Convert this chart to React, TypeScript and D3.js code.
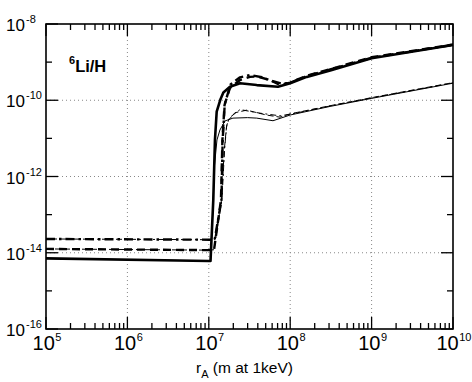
import { useEffect, useRef } from "react";
import * as d3 from "d3";

// x values: r_A (m at 1keV), y values: 6Li/H
const thickSolidX = [1e5, 1e7, 1.05e7, 1.135e7, 1.19e7, 1.25e7, 1.4e7, 1.51e7, 1.82e7, 2.42e7, 3.88e7, 7.08e7, 1e8, 1.6e8, 3.1e8, 1e9, 1e10];
const thickSolidY = [7.1e-15, 6.1e-15, 6.1e-15, 2.4e-13, 9.1e-12, 5.0e-11, 1.1e-10, 1.6e-10, 2.26e-10, 2.8e-10, 2.5e-10, 2.26e-10, 2.8e-10, 4.1e-10, 6.0e-10, 1.26e-9, 2.8e-9];

const thickDashX = [1e5, 1e7, 1.16e7, 1.41e7, 1.47e7, 1.56e7, 1.82e7, 2.42e7, 3.2e7, 3.88e7, 5.6e7, 7.5e7, 1e8, 1.6e8, 3.1e8, 1e9, 1e10];
const thickDashY = [1.26e-14, 1.17e-14, 1.2e-14, 2.4e-13, 9.1e-12, 7.5e-11, 2.1e-10, 3.4e-10, 4.1e-10, 4.2e-10, 3.4e-10, 2.5e-10, 2.9e-10, 4.4e-10, 6.5e-10, 1.35e-9, 2.9e-9];

const thickDashDotX = [1e5, 1e7, 1.18e7, 1.43e7, 1.48e7, 1.57e7, 1.85e7, 2.42e7, 3.2e7, 4.5e7, 6e7, 8e7, 1e8, 1.6e8, 3.1e8, 1e9, 1e10];
const thickDashDotY = [2.3e-14, 2.2e-14, 2.2e-14, 2.4e-13, 9e-12, 8e-11, 2.6e-10, 4.0e-10, 4.6e-10, 4.0e-10, 3.2e-10, 2.7e-10, 2.9e-10, 4.3e-10, 6.4e-10, 1.3e-9, 2.85e-9];

const thinSolidX = [1e5, 1e7, 1.05e7, 1.135e7, 1.16e7, 1.26e7, 1.37e7, 1.58e7, 1.98e7, 3.0e7, 3.88e7, 6.15e7, 1e8, 3.1e8, 1e9, 1e10];
const thinSolidY = [7.1e-15, 6.1e-15, 6.1e-15, 2.4e-13, 1.5e-12, 9.1e-12, 1.66e-11, 2.86e-11, 3.4e-11, 3.5e-11, 3.4e-11, 2.9e-11, 4.1e-11, 6.9e-11, 1.12e-10, 2.8e-10];

const thinDashX = [1e5, 1e7, 1.16e7, 1.43e7, 1.55e7, 1.65e7, 1.75e7, 2.09e7, 2.92e7, 5.1e7, 7.5e7, 1e8, 3.1e8, 1e9, 1e10];
const thinDashY = [1.26e-14, 1.17e-14, 1.2e-14, 2.4e-13, 5e-12, 2e-11, 3e-11, 4.7e-11, 5.5e-11, 4.1e-11, 3.6e-11, 4.4e-11, 7.2e-11, 1.17e-10, 2.9e-10];

const thinDashDotX = [1e5, 1e7, 1.18e7, 1.45e7, 1.56e7, 1.66e7, 1.8e7, 2.42e7, 4.2e7, 7.5e7, 1e8, 3.1e8, 1e9, 1e10];
const thinDashDotY = [2.3e-14, 2.2e-14, 2.2e-14, 2.4e-13, 5e-12, 2.2e-11, 3.5e-11, 5.7e-11, 4.6e-11, 3.9e-11, 4.3e-11, 7.1e-11, 1.15e-10, 2.85e-10];

const xTickExps = [5, 6, 7, 8, 9, 10];
const yTickExps = [-16, -14, -12, -10, -8];
const yMinorExps = [-15, -13, -11, -9];

export default function App() {
  const ref = useRef<SVGSVGElement>(null);

  const width = 472;
  const height = 382;
  const margin = { top: 24, right: 19, bottom: 53, left: 46 };

  useEffect(() => {
    const svg = d3.select(ref.current);
    svg.selectAll("*").remove();

    const x = d3.scaleLog().domain([1e5, 1e10]).range([margin.left, width - margin.right]);
    const y = d3.scaleLog().domain([1e-16, 1e-8]).range([height - margin.bottom, margin.top]);
    const x0 = margin.left, x1 = width - margin.right;
    const y0 = height - margin.bottom, y1 = margin.top;
    const font = "'Liberation Sans', Arial, Helvetica, sans-serif";

    // dotted grid
    const grid = svg.append("g").attr("stroke", "#888").attr("stroke-width", 1).attr("stroke-dasharray", "1,3");
    xTickExps.slice(1, -1).forEach(e => {
      grid.append("line").attr("x1", x(10 ** e)).attr("x2", x(10 ** e)).attr("y1", y0).attr("y2", y1);
    });
    yTickExps.slice(1, -1).forEach(e => {
      grid.append("line").attr("x1", x0).attr("x2", x1).attr("y1", y(10 ** e)).attr("y2", y(10 ** e));
    });

    // series
    const line = d3.line<[number, number]>()
      .x(d => x(d[0]))
      .y(d => y(d[1]));

    const series = [
      { xs: thinSolidX, ys: thinSolidY, w: 1, dash: null },
      { xs: thinDashX, ys: thinDashY, w: 1, dash: "6,3" },
      { xs: thinDashDotX, ys: thinDashDotY, w: 1, dash: "6,3,2,3" },
      { xs: thickDashDotX, ys: thickDashDotY, w: 2.4, dash: "9,4,2.5,4" },
      { xs: thickDashX, ys: thickDashY, w: 2.4, dash: "8,5" },
      { xs: thickSolidX, ys: thickSolidY, w: 2.6, dash: null },
    ];

    const plot = svg.append("g");
    series.forEach(s => {
      const pts = s.xs.map((v, i) => [v, s.ys[i]] as [number, number]);
      const p = plot.append("path")
        .attr("d", line(pts))
        .attr("fill", "none")
        .attr("stroke", "#000")
        .attr("stroke-width", s.w)
        .attr("stroke-linejoin", "round");
      if (s.dash) p.attr("stroke-dasharray", s.dash);
    });

    // ticks
    const ticks = svg.append("g").attr("stroke", "#000").attr("stroke-width", 1.3);
    xTickExps.forEach(e => {
      const tx = x(10 ** e);
      ticks.append("line").attr("x1", tx).attr("x2", tx).attr("y1", y0).attr("y2", y0 - 12);
      ticks.append("line").attr("x1", tx).attr("x2", tx).attr("y1", y1).attr("y2", y1 + 12);
      if (e < 10) {
        for (let k = 2; k <= 9; k++) {
          const mx = x(k * 10 ** e);
          ticks.append("line").attr("x1", mx).attr("x2", mx).attr("y1", y0).attr("y2", y0 - 6);
          ticks.append("line").attr("x1", mx).attr("x2", mx).attr("y1", y1).attr("y2", y1 + 6);
        }
      }
    });
    yTickExps.forEach(e => {
      const ty = y(10 ** e);
      ticks.append("line").attr("x1", x0).attr("x2", x0 + 12).attr("y1", ty).attr("y2", ty);
      ticks.append("line").attr("x1", x1).attr("x2", x1 - 12).attr("y1", ty).attr("y2", ty);
    });
    yMinorExps.forEach(e => {
      const ty = y(10 ** e);
      ticks.append("line").attr("x1", x0).attr("x2", x0 + 6).attr("y1", ty).attr("y2", ty);
      ticks.append("line").attr("x1", x1).attr("x2", x1 - 6).attr("y1", ty).attr("y2", ty);
    });

    // frame
    svg.append("rect")
      .attr("x", x0).attr("y", y1)
      .attr("width", x1 - x0).attr("height", y0 - y1)
      .attr("fill", "none").attr("stroke", "#000").attr("stroke-width", 1.6);

    // tick labels
    const labels = svg.append("g").attr("font-family", font).attr("fill", "#000");
    yTickExps.forEach(e => {
      const ty = y(10 ** e);
      labels.append("text").attr("x", 6).attr("y", ty + 7).attr("font-size", 17).text("10");
      labels.append("text").attr("x", 26).attr("y", ty - 1).attr("font-size", 11).text(`${e}`);
    });
    xTickExps.forEach(e => {
      const tx = x(10 ** e);
      const t = labels.append("text").attr("x", tx + 1).attr("y", 350).attr("font-size", 20)
        .attr("text-anchor", "middle");
      t.append("tspan").text("10");
      t.append("tspan").attr("font-size", 11).attr("dy", -9).attr("dx", 0.5).text(`${e}`);
    });

    // axis title
    const title = labels.append("text").attr("x", 196).attr("y", 373).attr("font-size", 15.5);
    title.append("tspan").text("r");
    title.append("tspan").attr("font-size", 11).attr("dy", 5).text("A");
    title.append("tspan").attr("dy", -5).text(" (m at 1keV)");

    // panel label
    const lab = labels.append("text").attr("x", 69).attr("y", 72)
      .attr("font-weight", "bold").attr("font-size", 16.5);
    lab.append("tspan").attr("font-size", 11).attr("dy", -8).text("6");
    lab.append("tspan").attr("dy", 8).text("Li/H");
  }, []);

  return (
    <svg ref={ref} width={width} height={height}
      style={{ position: "absolute", left: 0, top: 0, background: "#fff" }} />
  );
}
